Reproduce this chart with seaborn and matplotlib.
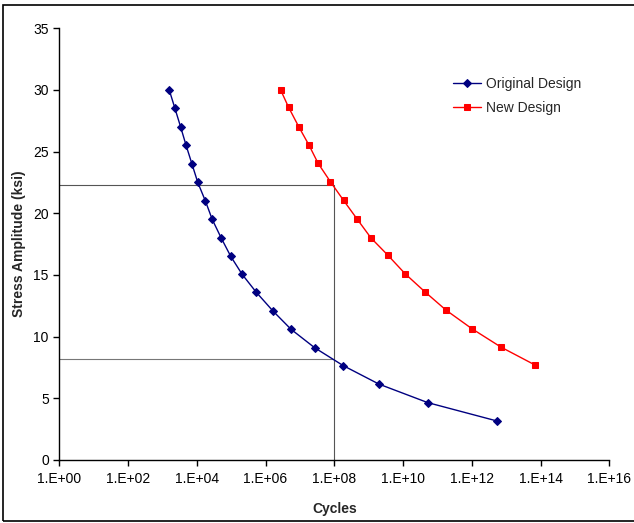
import matplotlib
matplotlib.use("Agg")
import matplotlib.pyplot as plt
from matplotlib.patches import Rectangle
from matplotlib.ticker import FixedLocator, NullLocator
import seaborn as sns
import pandas as pd

# S-N data: cycles to failure vs. stress amplitude (ksi)
orig_cycles = [1.58e3, 2.29e3, 3.39e3, 4.90e3, 7.24e3, 1.07e4, 1.78e4, 2.82e4,
               5.13e4, 9.77e4, 2.09e5, 5.37e5, 1.62e6, 5.50e6, 2.69e7, 1.82e8,
               2.00e9, 5.25e10, 5.60e12]
orig_stress = [30.0, 28.55, 27.0, 25.5, 24.0, 22.5, 21.0, 19.5, 18.0, 16.5,
               15.05, 13.6, 12.1, 10.6, 9.1, 7.65, 6.15, 4.65, 3.15]

new_cycles = [2.75e6, 4.68e6, 9.33e6, 1.82e7, 3.39e7, 7.76e7, 1.86e8, 4.57e8,
              1.17e9, 3.63e9, 1.15e10, 4.27e10, 1.78e11, 1.00e12, 7.08e12, 6.92e13]
new_stress = [30.0, 28.6, 27.0, 25.55, 24.05, 22.55, 21.05, 19.55, 18.0, 16.6,
              15.1, 13.65, 12.15, 10.65, 9.15, 7.7]

# design life marker at 1e8 cycles and the corresponding allowable stresses
design_life = 1e8
stress_new_at_life = 22.3
stress_orig_at_life = 8.2

x_ticks = [1e0, 1e2, 1e4, 1e6, 1e8, 1e10, 1e12, 1e14, 1e16]
x_tick_labels = ["1.E+00", "1.E+02", "1.E+04", "1.E+06", "1.E+08",
                 "1.E+10", "1.E+12", "1.E+14", "1.E+16"]
y_ticks = [0, 5, 10, 15, 20, 25, 30, 35]

sns.set_style("white")
plt.rcParams["font.family"] = ["Liberation Sans", "DejaVu Sans"]

fig = plt.figure(figsize=(6.34, 5.23), dpi=100)
ax = fig.add_axes([0.0935, 0.1205, 0.8675, 0.8254])

df_orig = pd.DataFrame({"Cycles": orig_cycles, "Stress": orig_stress})
df_new = pd.DataFrame({"Cycles": new_cycles, "Stress": new_stress})

# guide lines at the design life
ax.plot([1e0, design_life], [stress_new_at_life, stress_new_at_life],
        color="#555555", lw=0.8, zorder=1)
ax.plot([1e0, design_life], [stress_orig_at_life, stress_orig_at_life],
        color="#777777", lw=0.8, zorder=1)
ax.plot([design_life, design_life], [0, stress_new_at_life],
        color="#555555", lw=0.8, zorder=1)

sns.lineplot(data=df_orig, x="Cycles", y="Stress", ax=ax, sort=False,
             color="#000080", lw=1.0, marker="D", markersize=4.3,
             markeredgecolor="#000080", label="Original Design", zorder=3)
sns.lineplot(data=df_new, x="Cycles", y="Stress", ax=ax, sort=False,
             color="#FF0000", lw=1.0, marker="s", markersize=5,
             markeredgecolor="#FF0000", label="New Design", zorder=3)

ax.set_xscale("log")
ax.set_xlim(1e0, 1e16)
ax.set_ylim(0, 35)
ax.xaxis.set_major_locator(FixedLocator(x_ticks))
ax.xaxis.set_minor_locator(NullLocator())
ax.set_xticks(x_ticks)
ax.set_xticklabels(x_tick_labels)
ax.set_yticks(y_ticks)

for side in ["top", "right"]:
    ax.spines[side].set_visible(False)
for side in ["left", "bottom"]:
    ax.spines[side].set_color("black")
    ax.spines[side].set_linewidth(1.0)

ax.tick_params(axis="both", which="major", direction="out", length=4,
               width=1.0, color="black", labelsize=10, labelcolor="black",
               bottom=True, left=True)
ax.tick_params(axis="x", pad=5)
ax.tick_params(axis="y", pad=3.5)

ax.set_xlabel("Cycles", fontsize=10, fontweight="bold", labelpad=11)
ax.set_ylabel("Stress Amplitude (ksi)", fontsize=10, fontweight="bold",
              labelpad=5)

leg = ax.legend(loc="upper left", bbox_to_anchor=(0.706, 0.90), frameon=False,
                fontsize=10, handlelength=2.0, handletextpad=0.35,
                labelspacing=0.7, borderaxespad=0)

# outer chart border
fig.patches.append(Rectangle((0.0055, 0.0044), 1.2, 0.9866,
                             transform=fig.transFigure, fill=False,
                             edgecolor="black", lw=1.2, zorder=10))

fig.savefig("out.png", dpi=100)
